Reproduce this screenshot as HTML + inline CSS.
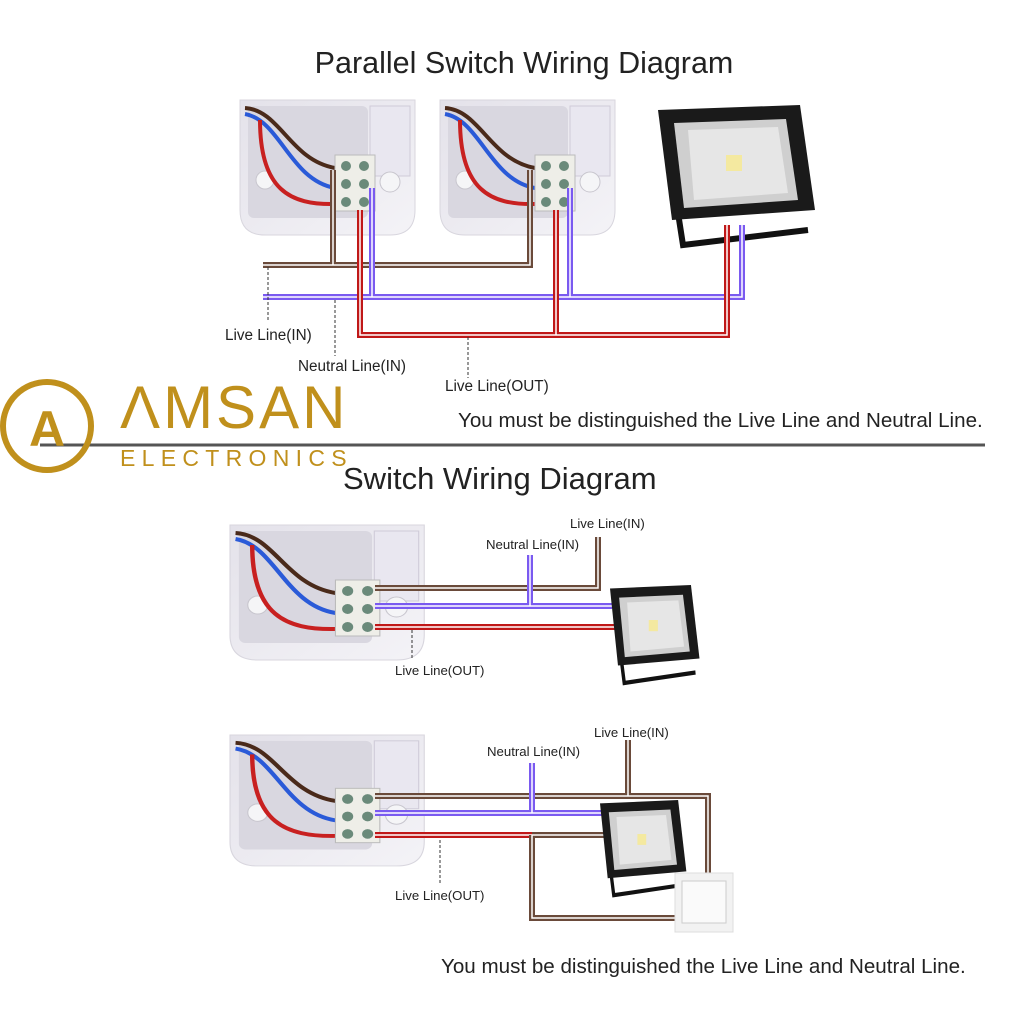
<!DOCTYPE html>
<html><head><meta charset="utf-8"><style>
html,body{margin:0;padding:0;background:#fff}
svg{display:block}
text{font-family:"Liberation Sans",Arial,sans-serif}
</style></head><body>
<svg width="1024" height="1024" viewBox="0 0 1024 1024" xmlns="http://www.w3.org/2000/svg">
<defs>
<linearGradient id="bx" x1="0" y1="0" x2="1" y2="1">
<stop offset="0" stop-color="#e4e2ea"/><stop offset="1" stop-color="#f4f3f7"/></linearGradient>
<g id="box">
<path d="M0,0 H175 V110 Q175,135 150,135 H25 Q0,135 0,110 Z" fill="url(#bx)" stroke="#d8d6de"/>
<rect x="8" y="6" width="120" height="112" rx="6" fill="#d9d7e0"/>
<rect x="130" y="6" width="40" height="70" fill="#e9e7f0" stroke="#cfcbd8"/>
<circle cx="25" cy="80" r="9" fill="#f5f5f7" stroke="#c8c6ce"/>
<circle cx="150" cy="82" r="10" fill="#f5f5f7" stroke="#c8c6ce"/>
<path d="M5,8 C40,10 50,60 95,68" stroke="#4a2a1a" stroke-width="4" fill="none"/>
<path d="M5,14 C40,20 50,80 95,88" stroke="#2a5ad8" stroke-width="4" fill="none"/>
<path d="M20,20 C20,90 50,105 95,104" stroke="#c82020" stroke-width="4" fill="none"/>
<rect x="95" y="55" width="40" height="56" fill="#eeeee8" stroke="#bbb"/>
<circle cx="106" cy="66" r="5" fill="#6a8a7a"/><circle cx="124" cy="66" r="5" fill="#6a8a7a"/>
<circle cx="106" cy="84" r="5" fill="#6a8a7a"/><circle cx="124" cy="84" r="5" fill="#6a8a7a"/>
<circle cx="106" cy="102" r="5" fill="#6a8a7a"/><circle cx="124" cy="102" r="5" fill="#6a8a7a"/>
</g>
<g id="lamp">
<path d="M18,95 L25,140 L150,125" stroke="#111" stroke-width="6" fill="none"/>
<polygon points="0,5 142,0 157,105 14,115" fill="#1a1a1a"/>
<polygon points="16,18 128,14 140,95 26,103" fill="#cfcfcf"/>
<polygon points="30,25 120,22 130,88 36,95" fill="#e6e6e6"/>
<rect x="68" y="50" width="16" height="16" fill="#f4e9a0"/>
</g>
</defs>

<text x="524" y="73" font-size="30.5" text-anchor="middle" fill="#222">Parallel Switch Wiring Diagram</text>

<use href="#box" x="240" y="100"/>
<use href="#box" x="440" y="100"/>
<use href="#lamp" x="658" y="105"/>

<g fill="none" stroke-linejoin="miter">
<path d="M263,265 H530 V170 M333,265 V170" stroke="#6a4a3a" stroke-width="6"/>
<path d="M263,265 H530 V170 M333,265 V170" stroke="#fff" stroke-width="1.5"/>
<path d="M263,297 H742 V225 M372,297 V188 M570,297 V188" stroke="#7a5af0" stroke-width="6"/>
<path d="M263,297 H742 V225 M372,297 V188 M570,297 V188" stroke="#fff" stroke-width="1.5"/>
<path d="M360,210 V335 H727 V225 M556,210 V335" stroke="#c01818" stroke-width="6"/>
<path d="M360,210 V335 H727 V225 M556,210 V335" stroke="#fff" stroke-width="1.5"/>
</g>
<g stroke="#333" stroke-width="1" stroke-dasharray="3,2">
<path d="M268,267 V322 M335,300 V356 M468,337 V378"/>
</g>
<g font-size="15.3" fill="#222">
<text x="225" y="340">Live Line(IN)</text>
<text x="298" y="371">Neutral Line(IN)</text>
<text x="445" y="391">Live Line(OUT)</text>
</g>
<text x="458" y="427" font-size="20.6" fill="#222">You must be distinguished the Live Line and Neutral Line.</text>

<line x1="40" y1="445" x2="985" y2="445" stroke="#555" stroke-width="3"/>
<circle cx="47" cy="426" r="44" fill="none" stroke="#c0901c" stroke-width="6"/>
<text x="47" y="446" font-size="50" font-weight="bold" text-anchor="middle" fill="#c0901c">A</text>
<text x="120" y="428" font-size="60" fill="#c0901c" letter-spacing="3">ΛMSAN</text>
<text x="120" y="466" font-size="23" fill="#c0901c" letter-spacing="6.3">ELECTRONICS</text>

<text x="343" y="489" font-size="31" fill="#222">Switch Wiring Diagram</text>

<use href="#box" transform="translate(230,525) scale(1.11,1)"/>
<g fill="none">
<path d="M375,588 H598 V537" stroke="#6a4a3a" stroke-width="6"/><path d="M375,588 H598 V537" stroke="#fff" stroke-width="1.5"/>
<path d="M375,606 H612 M530,606 V555" stroke="#7a5af0" stroke-width="6"/><path d="M375,606 H612 M530,606 V555" stroke="#fff" stroke-width="1.5"/>
<path d="M375,627 H620" stroke="#c01818" stroke-width="6"/><path d="M375,627 H620" stroke="#fff" stroke-width="1.5"/>
</g>
<use href="#lamp" transform="translate(610,585) scale(0.57,0.7)"/>
<path d="M412,630 V660" stroke="#333" stroke-dasharray="3,2"/>
<g font-size="13.2" fill="#222">
<text x="570" y="528">Live Line(IN)</text>
<text x="486" y="549">Neutral Line(IN)</text>
<text x="395" y="675">Live Line(OUT)</text>
</g>

<use href="#box" transform="translate(230,735) scale(1.11,0.97)"/>
<g fill="none">
<path d="M375,796 H708 V875 M628,796 V740" stroke="#6a4a3a" stroke-width="6"/><path d="M375,796 H708 V875 M628,796 V740" stroke="#fff" stroke-width="1.5"/>
<path d="M375,813 H602 M532,813 V763" stroke="#7a5af0" stroke-width="6"/><path d="M375,813 H602 M532,813 V763" stroke="#fff" stroke-width="1.5"/>
<path d="M375,835 H532" stroke="#c01818" stroke-width="6"/><path d="M375,835 H532" stroke="#fff" stroke-width="1.5"/>
<path d="M532,835 H605 M532,835 V918 H677" stroke="#6a4a3a" stroke-width="6"/><path d="M532,835 H605 M532,835 V918 H677" stroke="#fff" stroke-width="1.5"/>
</g>
<use href="#lamp" transform="translate(600,800) scale(0.55,0.68)"/>
<rect x="675" y="873" width="58" height="59" fill="#f2f2f2" stroke="#ddd"/>
<rect x="682" y="881" width="44" height="42" fill="#fafafa" stroke="#ccc"/>
<path d="M440,840 V885" stroke="#333" stroke-dasharray="3,2"/>
<g font-size="13.2" fill="#222">
<text x="594" y="737">Live Line(IN)</text>
<text x="487" y="756">Neutral Line(IN)</text>
<text x="395" y="900">Live Line(OUT)</text>
</g>
<text x="441" y="973" font-size="20.6" fill="#222">You must be distinguished the Live Line and Neutral Line.</text>
</svg>
</body></html>
